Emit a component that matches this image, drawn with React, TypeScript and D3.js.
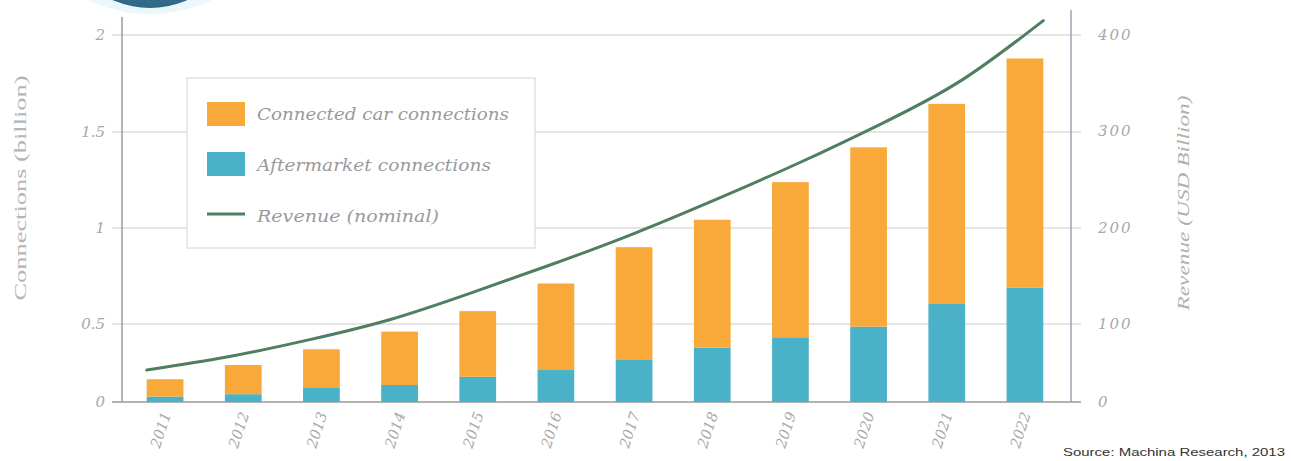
import React from "react";
import * as d3 from "d3";

const years = ["2011","2012","2013","2014","2015","2016","2017","2018","2019","2020","2021","2022"];
const aftermarket = [0.035,0.05,0.094,0.109,0.162,0.205,0.274,0.348,0.415,0.483,0.604,0.69];
const connectedCar = [0.111,0.187,0.244,0.342,0.405,0.506,0.626,0.695,0.824,0.937,1.041,1.189];
const revenue = [41,58,80,105,133,163,195,230,267,307,353,415];
const leftTicks = [0,0.5,1,1.5,2];
const leftTickLabels = ["0","0.5","1","1.5","2"];
const rightTicks = [0,100,200,300,400];
const rightTickLabels = ["0","100","200","300","400"];
const legendLabels = ["Connected car connections","Aftermarket connections","Revenue (nominal)"];

const ORANGE = "#F8A93A";
const BLUE = "#4AB2C8";
const GREEN = "#4F7E60";
const SERIF = "'DejaVu Serif', 'Liberation Serif', serif";

export default function App() {
  const W = 1291, H = 461;
  const xL = 122, xR = 1071, yBase = 402;
  const x = d3.scaleBand<string>().domain(years).range([126, 1064]).paddingInner(0.53).paddingOuter(0.265);
  const yL = d3.scaleLinear().domain(leftTicks).range([402, 324, 228, 132, 35]);
  const yR = d3.scaleLinear().domain(rightTicks).range([402, 324, 228, 131, 35]);
  const xLine = d3.scalePoint<string>().domain(years).range([x(years[0])!, x(years[years.length - 1])! + x.bandwidth()]);

  const rows = years.map((y, i) => ({ year: y, after: aftermarket[i], car: connectedCar[i] }));
  const stack = d3.stack<any>().keys(["after", "car"])(rows);
  const colors = [BLUE, ORANGE];

  const line = d3.line<number>()
    .x((_, i) => xLine(years[i])!)
    .y((d) => yR(d))
    .curve(d3.curveNatural);

  return (
    <svg width={W} height={H} style={{ position: "absolute", left: 0, top: 0, background: "#fff" }}>
      <defs>
        <radialGradient id="globe" cx="50%" cy="30%" r="70%">
          <stop offset="0%" stopColor="#8fc0d6" />
          <stop offset="60%" stopColor="#4a84a2" />
          <stop offset="100%" stopColor="#2f6886" />
        </radialGradient>
      </defs>
      {/* decorative globe fragment */}
      <ellipse cx={150} cy={-70} rx={112} ry={84} fill="#e3f5fa" opacity={0.7} />
      <ellipse cx={150} cy={-80} rx={90} ry={88} fill="url(#globe)" />

      {/* gridlines */}
      {leftTicks.map((t) => (
        <line key={"g" + t} x1={112} x2={1081} y1={yL(t)} y2={yL(t)} stroke={t === 0 ? "#9a9a9a" : "#dcdcdc"} strokeWidth={1.5} />
      ))}

      {/* bars */}
      {stack.map((s, si) => (
        <g key={si} fill={colors[si]}>
          {s.map((d, i) => (
            <rect key={i} x={x(years[i])} width={x.bandwidth()} y={yL(d[1])} height={yL(d[0]) - yL(d[1])} />
          ))}
        </g>
      ))}

      {/* axes lines */}
      <line x1={xL} x2={xL} y1={17} y2={yBase} stroke="#9a9a9a" strokeWidth={1.5} />
      <line x1={xR} x2={xR} y1={10} y2={yBase} stroke="#a0a0b0" strokeWidth={1.5} />

      {/* revenue line */}
      <path d={line(revenue) || ""} fill="none" stroke={GREEN} strokeWidth={3} strokeLinecap="round" />

      {/* left tick labels */}
      {leftTicks.map((t, i) => (
        <text key={"lt" + t} x={105} y={yL(t) + 5} textAnchor="end" fontFamily={SERIF} fontStyle="italic" fontSize={15} fill="#a8a8a8">
          {leftTickLabels[i]}
        </text>
      ))}
      {/* right tick labels */}
      {rightTicks.map((t, i) => (
        <text key={"rt" + t} x={1098} y={yR(t) + 5} textAnchor="start" fontFamily={SERIF} fontStyle="italic" fontSize={15} fill="#a8a8a8" letterSpacing={2}>
          {rightTickLabels[i]}
        </text>
      ))}

      {/* x labels */}
      {years.map((y) => {
        const cx = x(y)! + x.bandwidth() / 2 + 6;
        return (
          <text key={"x" + y} transform={`translate(${cx},${414}) rotate(-72)`} textAnchor="end" fontFamily={SERIF} fontStyle="italic" fontSize={14.5} fill="#a8a8a8">
            {y}
          </text>
        );
      })}

      {/* axis titles */}
      <text transform={`translate(26,188) rotate(-90)`} textAnchor="middle" fontFamily="'Liberation Serif', serif" fontSize={16} fill="#b5b5b5" textLength={225} lengthAdjust="spacingAndGlyphs">
        Connections (billion)
      </text>
      <text transform={`translate(1189,203) rotate(-90)`} textAnchor="middle" fontFamily="'Liberation Serif', serif" fontStyle="italic" fontSize={16} fill="#b0b0b0" textLength={215} lengthAdjust="spacingAndGlyphs">
        Revenue (USD Billion)
      </text>

      {/* legend */}
      <rect x={187} y={78} width={348} height={170} fill="#fff" stroke="#e2e2e2" strokeWidth={1.5} />
      <rect x={207} y={102} width={38} height={24} fill={ORANGE} />
      <rect x={207} y={152} width={38} height={24} fill={BLUE} />
      <line x1={207} x2={245} y1={214} y2={214} stroke={GREEN} strokeWidth={3} />
      {legendLabels.map((l, i) => (
        <text key={l} x={257} y={[120, 171, 222][i]} fontFamily={SERIF} fontStyle="italic" fontSize={17} fill="#9a9a9a"
          textLength={[252, 234, 182][i]} lengthAdjust="spacingAndGlyphs">
          {l}
        </text>
      ))}

      {/* source */}
      <text x={1063} y={456} fontFamily="'Liberation Sans', Arial, sans-serif" fontSize={11.5} fill="#333" textLength={222} lengthAdjust="spacingAndGlyphs">
        Source: Machina Research, 2013
      </text>
    </svg>
  );
}
